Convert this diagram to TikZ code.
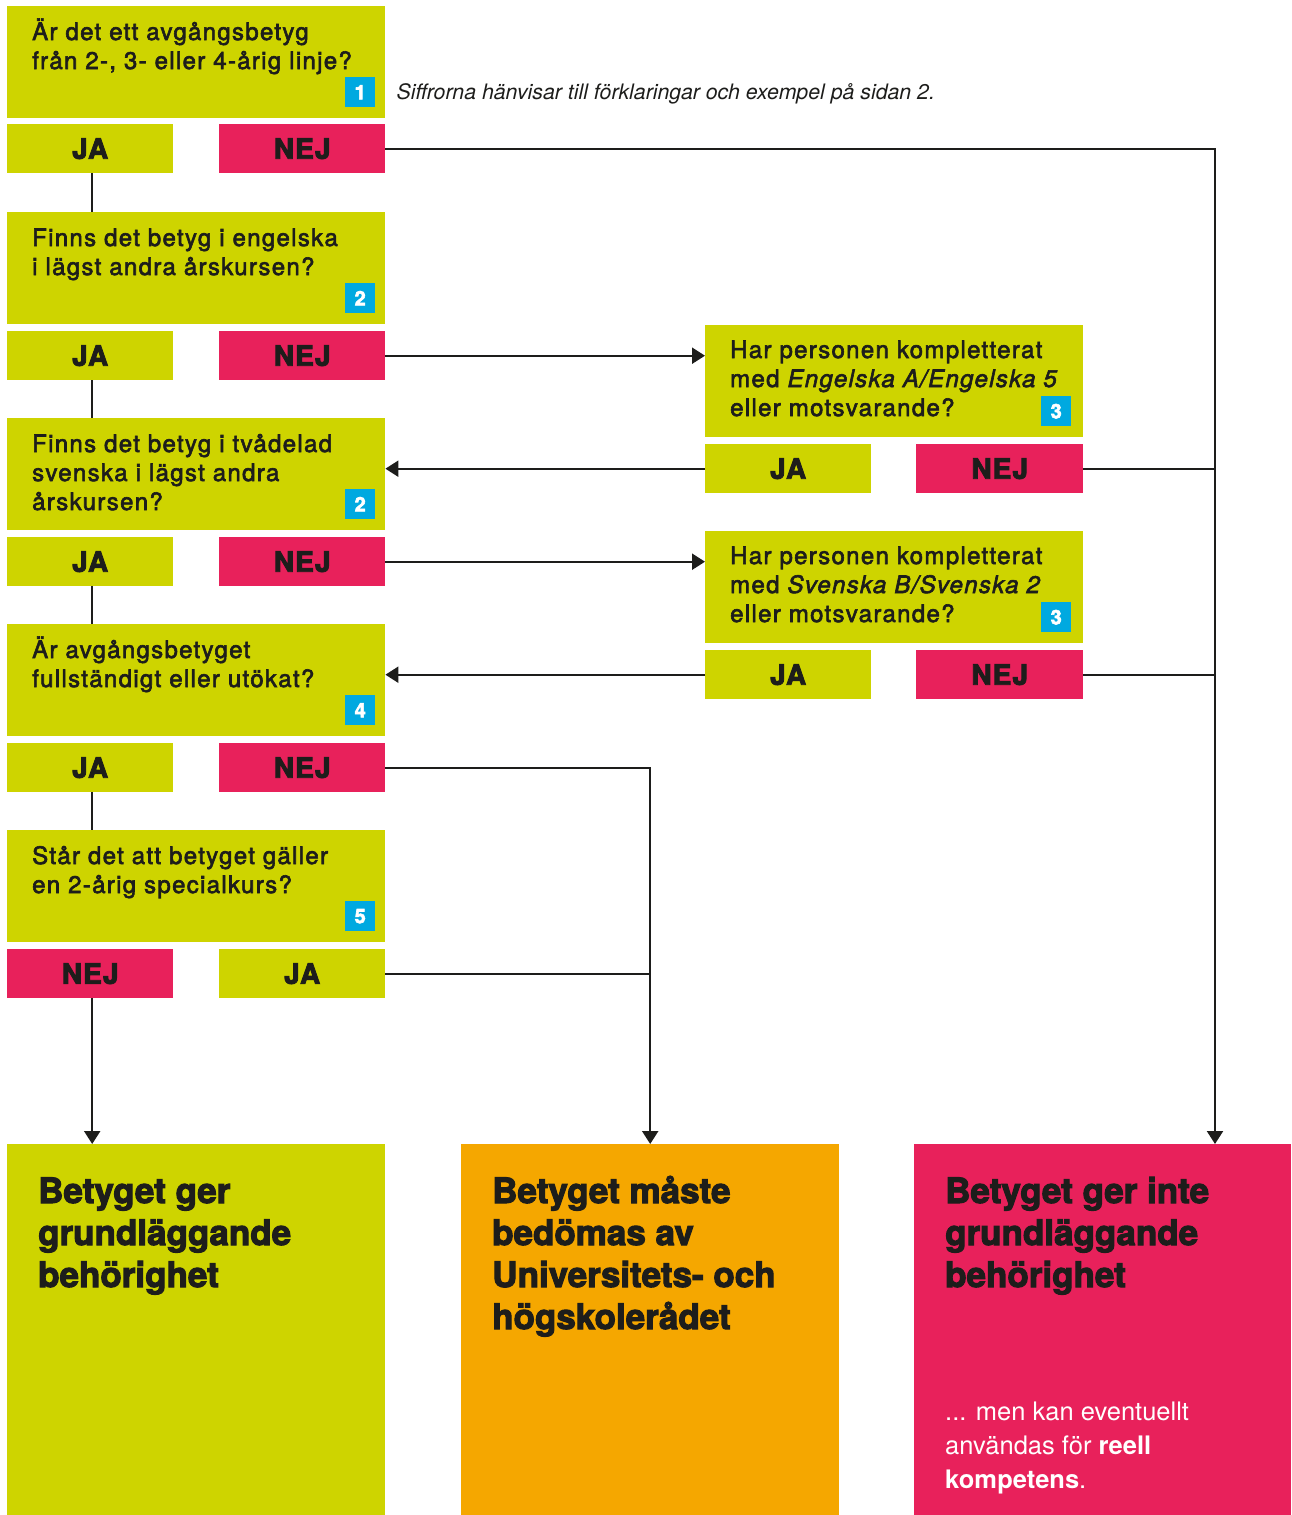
\documentclass[tikz,border=0pt]{standalone}
\usepackage{fontspec}
\setmainfont{TeX Gyre Heros}
\newfontfamily\heavyfont{TeX Gyre Heros}[BoldFeatures={FakeBold=3}]
\newfontfamily\qfont{TeX Gyre Heros}[LetterSpace=5.5, FakeBold=2.5]
\newfontfamily\ansfont{TeX Gyre Heros}[LetterSpace=4, BoldFeatures={FakeBold=3}]
\usetikzlibrary{arrows.meta,calc}
\definecolor{qgreen}{RGB}{206,212,0}
\definecolor{qpink}{RGB}{232,33,91}
\definecolor{qorange}{RGB}{245,167,0}
\definecolor{qblue}{RGB}{0,169,224}
\definecolor{qink}{RGB}{29,29,27}
\newcommand\qlines[1]{\parbox[t]{380pt}{\qfont\fontsize{24}{29}\selectfont\raggedright #1}}
\newcommand\tlines[1]{\parbox[t]{345pt}{\heavyfont\bfseries\fontsize{35}{42}\selectfont\raggedright #1}}
\begin{document}
\begin{tikzpicture}[x=1pt,y=-1pt,
  qbox/.style={fill=qgreen, anchor=north west, inner sep=0, minimum width=378, minimum height=112},
  ans/.style={anchor=north west, inner sep=0, minimum width=166, minimum height=49, text=qink,
    font=\ansfont\bfseries\fontsize{28}{28}\selectfont},
  jabox/.style={ans, fill=qgreen},
  nejbox/.style={ans, fill=qpink},
  badge/.style={fill=qblue, text=white, minimum size=30, inner sep=0, anchor=south east,
    font=\heavyfont\bfseries\fontsize{20}{20}\selectfont},
  qtext/.style={anchor=base west, inner sep=0, text=qink},
  result/.style={anchor=north west, inner sep=0, minimum width=378, minimum height=371},
  conn/.style={line width=2.2pt, draw=qink},
  arr/.style={conn, -{Triangle[width=16pt,length=13pt]}}
]
\useasboundingbox (0,0) rectangle (1291,1515);

% left column
\node[qbox] (q1) at (7,6) {};
\node[jabox] (j1) at (7,124) {JA};
\node[nejbox] (n1) at (219,124) {NEJ};
\node[qbox] (q2) at (7,212) {};
\node[jabox] (j2) at (7,331) {JA};
\node[nejbox] (n2) at (219,331) {NEJ};
\node[qbox] (q3) at (7,418) {};
\node[jabox] (j3) at (7,537) {JA};
\node[nejbox] (n3) at (219,537) {NEJ};
\node[qbox] (q4) at (7,624) {};
\node[jabox] (j4) at (7,743) {JA};
\node[nejbox] (n4) at (219,743) {NEJ};
\node[qbox] (q5) at (7,830) {};
\node[nejbox] (n5) at (7,949) {NEJ};
\node[jabox] (j5) at (219,949) {JA};

% right column
\node[qbox] (qe) at (705,325) {};
\node[jabox] (je) at (705,444) {JA};
\node[nejbox, minimum width=167] (ne) at (916,444) {NEJ};
\node[qbox] (qs) at (705,531) {};
\node[jabox] (js) at (705,650) {JA};
\node[nejbox, minimum width=167] (ns) at (916,650) {NEJ};

% results
\node[result, fill=qgreen] (r1) at (7,1144) {};
\node[result, fill=qorange] (r2) at (461,1144) {};
\node[result, fill=qpink, minimum width=377] (r3) at (914,1144) {};

% question texts
\node[qtext] (q1t) at ($(q1.north west)+(25,34)$) {\qlines{Är det ett avgångsbetyg\\från 2-, 3- eller 4-årig linje?}};
\node[qtext] (q2t) at ($(q2.north west)+(25,34)$) {\qlines{Finns det betyg i engelska\\i lägst andra årskursen?}};
\node[qtext] (q3t) at ($(q3.north west)+(25,34)$) {\qlines{Finns det betyg i tvådelad\\svenska i lägst andra\\årskursen?}};
\node[qtext] (q4t) at ($(q4.north west)+(25,34)$) {\qlines{Är avgångsbetyget\\fullständigt eller utökat?}};
\node[qtext] (q5t) at ($(q5.north west)+(25,34)$) {\qlines{Står det att betyget gäller\\en 2-årig specialkurs?}};
\node[qtext] (qet) at ($(qe.north west)+(25,33)$) {\qlines{Har personen kompletterat\\med \textit{Engelska A/Engelska 5}\\eller motsvarande?}};
\node[qtext] (qst) at ($(qs.north west)+(25,33)$) {\qlines{Har personen kompletterat\\med \textit{Svenska B/Svenska 2}\\eller motsvarande?}};

% badges
\node[badge] (b1) at ($(q1.south east)+(-10,-11)$) {1};
\node[badge] (b2) at ($(q2.south east)+(-10,-11)$) {2};
\node[badge] (b3) at ($(q3.south east)+(-10,-11)$) {2};
\node[badge] (b4) at ($(q4.south east)+(-10,-11)$) {4};
\node[badge] (b5) at ($(q5.south east)+(-10,-11)$) {5};
\node[badge] (be) at ($(qe.south east)+(-12,-11)$) {3};
\node[badge] (bs) at ($(qs.south east)+(-12,-11)$) {3};

% note
\node[anchor=base west, inner sep=0, text=qink, font=\itshape\fontsize{21.3}{21}\selectfont] (note)
  at ($(q1.north east)+(11,93)$) {Siffrorna hänvisar till förklaringar och exempel på sidan 2.};

% result texts
\node[qtext] (r1t) at ($(r1.north west)+(31,59)$) {\tlines{Betyget ger\\grundläggande\\behörighet}};
\node[qtext] (r2t) at ($(r2.north west)+(31,59)$) {\tlines{Betyget måste\\bedömas av\\Universitets- och\\högskolerådet}};
\node[qtext] (r3t) at ($(r3.north west)+(31,59)$) {\tlines{Betyget ger inte\\grundläggande\\behörighet}};
\node[anchor=base west, inner sep=0, text=white] (r3s) at ($(r3.north west)+(31,276)$)
  {\parbox[t]{340pt}{\fontsize{25.5}{34}\selectfont\raggedright ... men kan eventuellt\\användas för \textbf{reell}\\\textbf{kompetens}.}};

% connectors
\coordinate (c3) at ($(r3.north west)+(301,0)$);
\draw[conn] ($(j1.south)+(2,0)$) -- ($(j1.south |- q2.north)+(2,0)$);
\draw[conn] ($(j2.south)+(2,0)$) -- ($(j2.south |- q3.north)+(2,0)$);
\draw[conn] ($(j3.south)+(2,0)$) -- ($(j3.south |- q4.north)+(2,0)$);
\draw[conn] ($(j4.south)+(2,0)$) -- ($(j4.south |- q5.north)+(2,0)$);
\draw[arr] ($(n5.south)+(2,0)$) -- ($(n5.south |- r1.north)+(2,0)$);
\draw[arr] (n1.east) -| (c3);
\draw[arr] (n2.east) -- (n2.east -| qe.west);
\draw[arr] (je.west) -- (je.west -| q3.east);
\draw[conn] (ne.east) -- (ne.east -| c3);
\draw[arr] (n3.east) -- (n3.east -| qs.west);
\draw[arr] (js.west) -- (js.west -| q4.east);
\draw[conn] (ns.east) -- (ns.east -| c3);
\draw[arr] (n4.east) -| (r2.north);
\draw[conn] (j5.east) -- (j5.east -| r2.north);
\end{tikzpicture}
\end{document}
